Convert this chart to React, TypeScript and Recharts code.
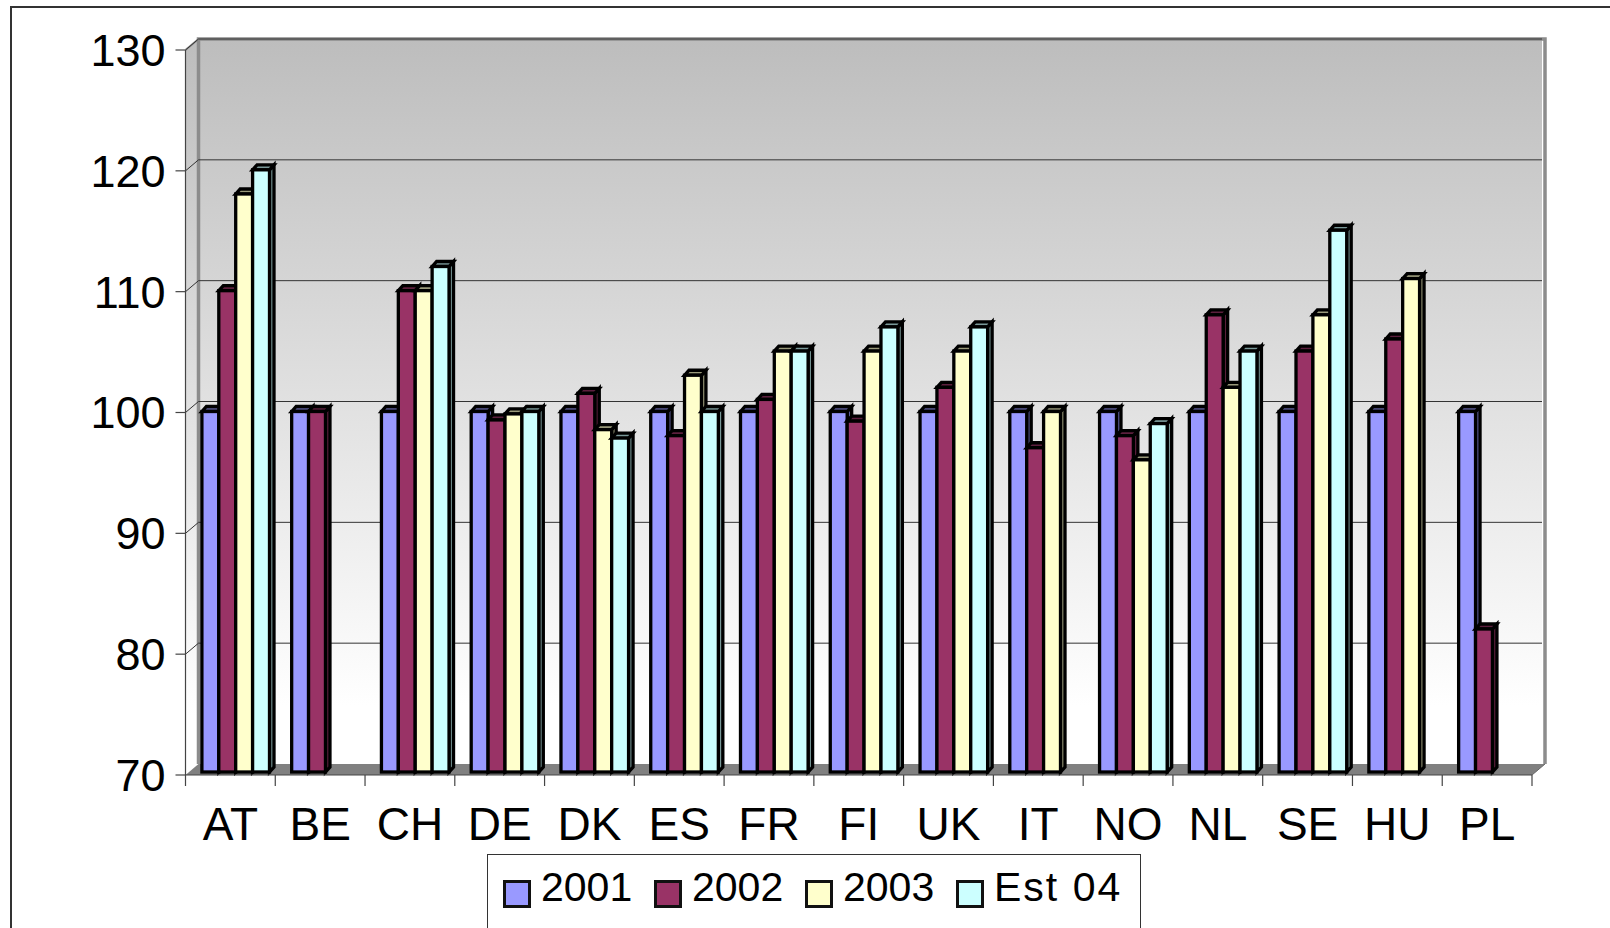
import { Bar, BarChart, CartesianGrid, Legend, ReferenceArea, XAxis, YAxis } from "recharts";

const countries = ["AT", "BE", "CH", "DE", "DK", "ES", "FR", "FI", "UK", "IT", "NO", "NL", "SE", "HU", "PL"];
const v2001 = [100, 100, 100, 100, 100, 100, 100, 100, 100, 100, 100, 100, 100, 100, 100];
const v2002 = [110, 100, 110, 99.3, 101.5, 98, 101, 99.2, 102, 97, 98, 108, 105, 106, 82];
const v2003 = [118, null, 110, 99.8, 98.5, 103, 105, 105, 105, 100, 96, 102, 108, 111, null];
const vEst04 = [120, null, 112, 100, 97.8, 100, 105, 107, 107, null, 99, 105, 115, null, null];
const yTicks = [70, 80, 90, 100, 110, 120, 130];

const seriesColors = { s2001: "#9999ff", s2002: "#993366", s2003: "#ffffcc", s2004: "#ccffff" };
const sideColors = { s2001: "#5c5c99", s2002: "#5c1f3d", s2003: "#99997a", s2004: "#7a9999" };

const data = countries.map((c, i) => ({
  country: c,
  s2001: v2001[i],
  s2002: v2002[i],
  s2003: v2003[i],
  s2004: vEst04[i],
}));

const font = "'Liberation Sans', Arial, sans-serif";
const bandWidth = 1346.5 / countries.length;
const wallDx = 13;
const wallDy = 11;

// back wall, left wall and floor of the fake 3d box
function Walls({ x, y, width, height }: any) {
  const bottom = y + height;
  const right = x + width;
  return (
    <g>
      <defs>
        <linearGradient id="wall" x1="0" y1="0" x2="0" y2="1">
          <stop offset="0" stopColor="#bdbdbd" />
          <stop offset="0.92" stopColor="#ffffff" />
          <stop offset="1" stopColor="#ffffff" />
        </linearGradient>
      </defs>
      <rect x={x + wallDx} y={y - wallDy} width={width - 3} height={height} fill="url(#wall)" />
      <polygon
        points={`${x},${y} ${x + wallDx},${y - wallDy} ${x + wallDx},${bottom - wallDy} ${x},${bottom}`}
        fill="url(#wall)"
      />
      <polygon
        points={`${x},${bottom} ${x + wallDx},${bottom - wallDy} ${right + wallDx},${bottom - wallDy} ${right},${bottom}`}
        fill="#808080"
      />
      <path
        d={`M${x + wallDx},${bottom - wallDy} V${y - wallDy} H${right + wallDx} V${bottom - wallDy}`}
        fill="none"
        stroke="#8c8c8c"
        strokeWidth={3.5}
      />
      <path d={`M${x},${y} L${x + wallDx},${y - wallDy}`} stroke="#8c8c8c" strokeWidth={2} />
      <path d={`M${right},${bottom} L${right + wallDx},${bottom - wallDy}`} stroke="#666" strokeWidth={1} />
    </g>
  );
}

function GridLine({ x1, y1, x2 }: any) {
  // the floor edge has no wall line on it
  if (Math.abs(y1 - 775) < 1) return <g />;
  return (
    <path
      d={`M${x1},${y1} L${x1 + wallDx},${y1 - wallDy} H${x2 + wallDx - 3}`}
      fill="none"
      stroke="#333"
      strokeWidth={1}
    />
  );
}

function Bar3D({ x, y, width, height, fill, side }: any) {
  if (height == null || height <= 0) return <g />;
  const left = x + 5.4;
  const right = left + width;
  const top = y - 1;
  const bottom = y + height - 3;
  const dx = 4.5;
  const dy = 5;
  return (
    <g stroke="#000" strokeWidth={3.3} strokeLinejoin="miter">
      <polygon points={`${right},${top} ${right + dx},${top - dy} ${right + dx},${bottom - dy} ${right},${bottom}`} fill={side} />
      <polygon points={`${left},${top} ${left + dx},${top - dy} ${right + dx},${top - dy} ${right},${top}`} fill={side} />
      <rect x={left} y={top} width={width} height={bottom - top} fill={fill} />
    </g>
  );
}

function XTick({ x, y, payload, index }: any) {
  const isLast = index === countries.length - 1;
  const edge = x - bandWidth / 2;
  return (
    <g>
      <line x1={edge} y1={y} x2={edge} y2={y + 11} stroke="#444" strokeWidth={1.2} />
      {isLast && <line x1={edge + bandWidth} y1={y} x2={edge + bandWidth} y2={y + 11} stroke="#444" strokeWidth={1.2} />}
      <text x={x} y={y + 65} textAnchor="middle" fontFamily={font} fontSize={46} fill="#000">
        {payload.value}
      </text>
    </g>
  );
}

function LegendBox({ payload }: any) {
  const gaps = [0, 151, 302, 453];
  return (
    <div style={{ position: "relative", width: 654, height: 90, border: "1px solid #333", background: "#fff", boxSizing: "border-box" }}>
      {(payload || []).map((item: any, i: number) => (
        <div key={item.value}>
          <div
            style={{
              position: "absolute",
              left: 15 + gaps[i],
              top: 25,
              width: 28,
              height: 28,
              boxSizing: "border-box",
              background: item.color,
              border: "3.5px solid #111",
            }}
          />
          <div
            style={{
              position: "absolute",
              left: 53 + gaps[i],
              top: 9,
              fontFamily: font,
              fontSize: 41,
              lineHeight: "47px",
              letterSpacing: i === 3 ? 2 : 0,
              whiteSpace: "nowrap",
              color: "#000",
            }}
          >
            {item.value}
          </div>
        </div>
      ))}
    </div>
  );
}

export default function App() {
  return (
    <div style={{ position: "absolute", left: 0, top: 0, width: 1610, height: 928, overflow: "hidden", background: "#fff" }}>
      <div style={{ position: "absolute", left: 10, top: 6, width: 1640, height: 960, border: "2px solid #333" }} />
      <BarChart
        width={1610}
        height={928}
        data={data}
        barSize={16.9}
        barGap={0}
        margin={{ top: 50, right: 78, bottom: 0, left: 0 }}
        style={{ position: "absolute", left: 0, top: 0 }}
      >
        <ReferenceArea y1={70} y2={130} shape={<Walls />} ifOverflow="visible" zIndex={-200} />
        <CartesianGrid vertical={false} horizontal={<GridLine />} />
        <XAxis
          dataKey="country"
          height={153}
          tick={<XTick />}
          tickLine={false}
          tickSize={0}
          tickMargin={0}
          interval={0}
          axisLine={{ stroke: "#444", strokeWidth: 1.2 }}
        />
        <YAxis
          domain={[70, 130]}
          ticks={yTicks}
          width={185.5}
          interval={0}
          tickSize={10}
          tickMargin={10}
          axisLine={{ stroke: "#444", strokeWidth: 1.2 }}
          tickLine={{ stroke: "#444", strokeWidth: 1.2 }}
          tick={{ fontFamily: font, fontSize: 45, fill: "#000" }}
        />
        <Legend
          content={<LegendBox />}
          wrapperStyle={{ left: 487, top: 854, width: 654, height: 0, bottom: "auto" }}
        />
        <Bar dataKey="s2001" name="2001" fill={seriesColors.s2001} isAnimationActive={false} shape={<Bar3D side={sideColors.s2001} />} />
        <Bar dataKey="s2002" name="2002" fill={seriesColors.s2002} isAnimationActive={false} shape={<Bar3D side={sideColors.s2002} />} />
        <Bar dataKey="s2003" name="2003" fill={seriesColors.s2003} isAnimationActive={false} shape={<Bar3D side={sideColors.s2003} />} />
        <Bar dataKey="s2004" name="Est 04" fill={seriesColors.s2004} isAnimationActive={false} shape={<Bar3D side={sideColors.s2004} />} />
      </BarChart>
    </div>
  );
}
